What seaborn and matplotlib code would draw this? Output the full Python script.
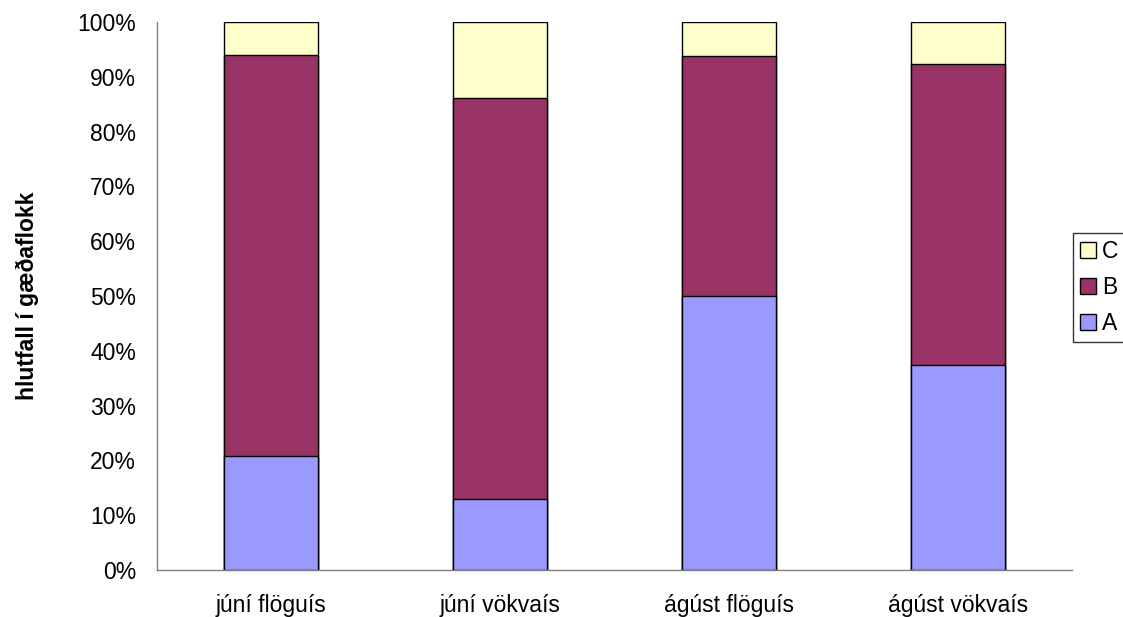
import matplotlib
matplotlib.use("Agg")
import matplotlib.pyplot as plt
from matplotlib.patches import Patch
import numpy as np
import pandas as pd
import seaborn as sns

# Share of each quality class (%) per sample
categories = ["júní flöguís", "júní vökvaís", "ágúst flöguís", "ágúst vökvaís"]
share_a = [20.8, 13.0, 50.0, 37.5]
share_b = [73.1, 73.2, 43.8, 54.8]
share_c = [6.1, 13.8, 6.2, 7.7]
series_names = ["A", "B", "C"]
yticks = [0, 10, 20, 30, 40, 50, 60, 70, 80, 90, 100]
ylabel = "hlutfall í gæðaflokk"

colors = {"A": "#9999FF", "B": "#993366", "C": "#FFFFCC"}
fs = 16.5

sns.set_style("white")
plt.rcParams["font.family"] = ["Liberation Sans", "DejaVu Sans"]
plt.rcParams["text.color"] = "black"
plt.rcParams["xtick.color"] = "black"
plt.rcParams["ytick.color"] = "black"
plt.rcParams["axes.labelcolor"] = "black"

df = pd.DataFrame({"category": categories, "A": share_a, "B": share_b, "C": share_c})
df["cum_A"] = df["A"]
df["cum_B"] = df["cum_A"] + df["B"]
df["cum_C"] = df["cum_B"] + df["C"]

fig = plt.figure(figsize=(11.23, 6.17), dpi=100)
ax = fig.add_axes([157 / 1123, 47 / 617, 915 / 1123, 548 / 617])

# Stack by overdrawing cumulative totals from the top segment down
for name in reversed(series_names):
    sns.barplot(data=df, x="category", y=f"cum_{name}", order=categories,
                color=colors[name], saturation=1, width=0.41,
                edgecolor="black", linewidth=1.0, ax=ax)

ax.set_xlim(-0.5, len(categories) - 0.5)
ax.set_ylim(0, 100)
ax.set_yticks(yticks)
ax.set_yticklabels([f"{v}%" for v in yticks])
ax.set_xlabel("")
ax.set_ylabel(ylabel, fontsize=fs, fontweight="bold", labelpad=28, color="black")

# Category boundaries carry the tick marks, labels sit at the centres
ax.set_xticks(np.arange(len(categories)))
ax.set_xticklabels(categories)
ax.set_xticks(np.arange(len(categories) + 1) - 0.5, minor=True)
ax.tick_params(axis="x", which="major", length=0, pad=17, labelsize=fs,
               labelcolor="black")
ax.tick_params(axis="x", which="minor", length=6, width=1, color="#808080", direction="out")
ax.tick_params(axis="y", length=6, width=1, color="#808080", direction="out",
               pad=9, labelsize=fs, labelcolor="black")

for side in ["top", "right"]:
    ax.spines[side].set_visible(False)
for side in ["left", "bottom"]:
    ax.spines[side].set_color("#808080")
    ax.spines[side].set_linewidth(1.0)

handles = [Patch(facecolor=colors[n], edgecolor="black", linewidth=1.0, label=n)
           for n in reversed(series_names)]
leg = fig.legend(handles=handles, loc="upper left",
                 bbox_to_anchor=(1073 / 1123, 1 - 233 / 617),
                 frameon=True, fancybox=False, edgecolor="black",
                 fontsize=fs, handlelength=0.7, handleheight=0.7,
                 handletextpad=0.25, labelspacing=0.58, borderpad=0.3,
                 borderaxespad=0)
leg.get_frame().set_linewidth(1.0)
for t in leg.get_texts():
    t.set_color("black")

fig.savefig("out.png", dpi=100)
